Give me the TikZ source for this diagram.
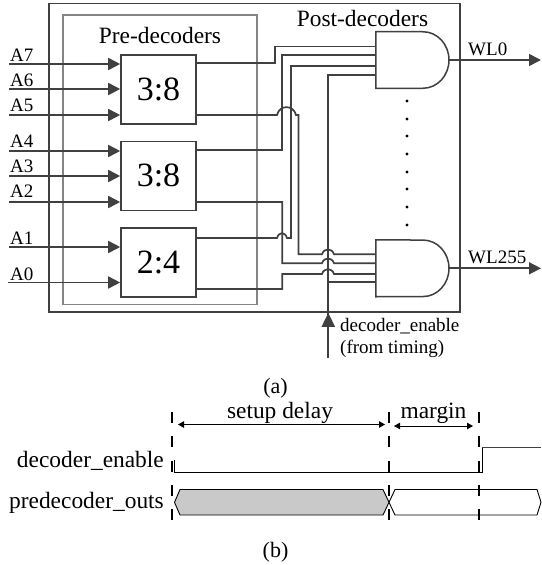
\documentclass[tikz,border=0pt]{standalone}
\usepackage{fontspec}
\setmainfont{Liberation Serif}
\usetikzlibrary{arrows.meta}
\definecolor{wire}{HTML}{404040}
\definecolor{framegray}{HTML}{858585}
\tikzset{
  x=1pt,y=-1pt,
  wirex/.style={draw=wire,line width=1.7pt,line join=miter},
  inarrow/.style={wirex,-{Triangle[length=12pt,width=12pt]}},
  decoderbox/.style={draw=wire,line width=1.6pt,minimum width=75pt,minimum height=69pt,inner sep=0pt,fill=white,font=\fontsize{34}{34}\selectfont},
  gatespace/.style={minimum width=73pt,minimum height=56.5pt,inner sep=0pt},
  gateline/.style={draw=wire,line width=1.5pt,fill=white},
  txts/.style={inner sep=0pt,font=\fontsize{19}{19}\selectfont,text=black},
  txtl/.style={inner sep=0pt,font=\fontsize{23.4}{23.4}\selectfont,text=black},
  pdot/.style={fill=black,circle,inner sep=0pt,minimum size=3.4pt},
  guide/.style={draw=black,line width=1.5pt,dash pattern=on 11pt off 13.3pt},
  sig/.style={draw=black,line width=0.9pt},
  span/.style={draw=black,line width=1pt,{Triangle[length=6pt,width=6.5pt]}-{Triangle[length=6pt,width=6.5pt]}}
}
\begin{document}
\begin{tikzpicture}
\useasboundingbox (0,0) rectangle (541,565);
% frames
\node[draw=wire,line width=1.6pt,inner sep=0pt,minimum width=411pt,minimum height=308.3pt] (outer) at (254.5,157.8) {};
\node[draw=framegray,line width=1.6pt,inner sep=0pt,minimum width=194pt,minimum height=289.5pt] (inner) at (160,159.8) {};
% decoders
\node[decoderbox] (d1) at (158.5,89.5) {3:8};
\node[decoderbox] (d2) at (158.5,175.8) {3:8};
\node[decoderbox] (d3) at (158.5,262.5) {2:4};
% gates
\node[gatespace] (and1) at (412.5,60) {};
\node[gatespace] (and2) at (412.5,268.3) {};
% input labels
\node[txts,anchor=base west] (la7) at (10,61) {A7};
\node[txts,anchor=base west] (la6) at (10,86) {A6};
\node[txts,anchor=base west] (la5) at (10,111) {A5};
\node[txts,anchor=base west] (la4) at (10,147) {A4};
\node[txts,anchor=base west] (la3) at (10,172) {A3};
\node[txts,anchor=base west] (la2) at (10,197) {A2};
\node[txts,anchor=base west] (la1) at (10,244) {A1};
\node[txts,anchor=base west] (la0) at (10,280) {A0};
% inputs
\draw[inarrow] (9,64) -- (d1.west |- 0,64);
\draw[inarrow] (9,89) -- (d1.west |- 0,89);
\draw[inarrow] (9,115) -- (d1.west |- 0,115);
\draw[inarrow] (9,151) -- (d2.west |- 0,151);
\draw[inarrow] (9,176) -- (d2.west |- 0,176);
\draw[inarrow] (9,202) -- (d2.west |- 0,202);
\draw[inarrow] (9,247) -- (d3.west |- 0,247);
\draw[inarrow] (8,282.5) -- (d3.west |- 0,282.5);
% post wires to gate 1
\draw[wirex] (d1.east |- 0,63) -- (275,63) -- (275,46.5) -- (and1.west |- 0,46.5);
\draw[wirex] (d2.east |- 0,150) -- (282.3,150) -- (282.3,55) -- (and1.west |- 0,55);
\draw[wirex] (d3.east |- 0,238) -- (277,238) .. controls (279,231.5) and (285,231.5) .. (287,238) -- (291,238) -- (291,66) -- (and1.west |- 0,66);
% post wires to gate 2
\draw[wirex] (d1.east |- 0,115) -- (277,115) .. controls (279.5,104.5) and (293.5,104.5) .. (296,115) -- (298.5,115) -- (298.5,254.3) -- (322,254.3) .. controls (324,247.8) and (332,247.8) .. (334,254.3) -- (and2.west |- 0,254.3);
\draw[wirex] (d2.east |- 0,202) -- (282.3,202) -- (282.3,263.3) -- (322,263.3) .. controls (324,256.8) and (332,256.8) .. (334,263.3) -- (and2.west |- 0,263.3);
\draw[wirex] (d3.east |- 0,289) -- (282.3,289) -- (282.3,274) -- (322,274) .. controls (324,267.5) and (332,267.5) .. (334,274) -- (and2.west |- 0,274);
% enable
\coordinate (en) at (328.3,358);
\draw[wirex] (en) -- (328.3,75) -- (and1.west |- 0,75);
\draw[wirex] (328.3,282) -- (and2.west |- 0,282);
\draw[wirex,-{Triangle[length=14pt,width=13pt]}] (en) -- (outer.south -| en);
% gate outlines
\draw[gateline] (and1.north west) -- (423,31.75) arc[start angle=90,end angle=-90,x radius=26pt,y radius=28.25pt] -- (and1.south west) -- cycle;
\draw[gateline] (and2.north west) -- (423,240.05) arc[start angle=90,end angle=-90,x radius=26pt,y radius=28.25pt] -- (and2.south west) -- cycle;
% outputs
\draw[inarrow] (and1.east) -- (541,60);
\draw[inarrow] (and2.east) -- (541,268.3);
% dots
\foreach \yy/\nn in {101/a,119/b,136/c,154/d,172/e,189/f,207/g,225/h}
  \node[pdot] (dot\nn) at (407,\yy) {};
% labels
\node[txtl,anchor=base] (tpre) at (160,43) {Pre-decoders};
\node[txtl,anchor=base] (tpost) at (362.5,26) {Post-decoders};
\node[txts,anchor=base west] (twl0) at (468,55) {WL0};
\node[txts,anchor=base west] (twl255) at (468,263) {WL255};
\node[txts,anchor=base west] (ten1) at (340,331) {decoder\_enable};
\node[txts,anchor=base west] (ten2) at (340,353) {(from timing)};
\node[txtl,font=\fontsize{22}{22}\selectfont,anchor=base] (ta) at (275.5,393) {(a)};
\node[txtl,font=\fontsize{22}{22}\selectfont,anchor=base] (tb) at (275.5,557) {(b)};
% timing
\coordinate (g1t) at (172,412);
\coordinate (g1b) at (172,520);
\coordinate (g2t) at (389,412);
\coordinate (g2b) at (389,520);
\coordinate (g3t) at (479,412);
\coordinate (g3b) at (479,520);
\draw[sig,fill=black!21] (174.5,502.3) -- (180,489.5) -- (383,489.5) -- (389,502.3) -- (383,515) -- (180,515) -- cycle;
\draw[sig] (541,502.3) -- (537,489.5) -- (395,489.5) -- (389,502.3) -- (395,515) -- (537,515) -- cycle;
\draw[guide] (g1t) -- (g1b);
\draw[guide] (g2t) -- (g2b);
\draw[guide] (g3t) -- (g3b);
\draw[sig] (174.5,460) -- (174.5,472) -- (482,472) -- (482,447);
\draw[sig,draw=wire] (482,447) -- (541,447);
\draw[span] (178,424.5) -- (385,424.5);
\draw[span] (394,426) -- (473,426);
\node[txtl,anchor=base] (tsetup) at (280,418) {setup delay};
\node[txtl,anchor=base] (tmargin) at (433.5,418) {margin};
\node[txtl,anchor=base east] (tde) at (164,467) {decoder\_enable};
\node[txtl,anchor=base east] (tpo) at (164,508) {predecoder\_outs};
\end{tikzpicture}
\end{document}
